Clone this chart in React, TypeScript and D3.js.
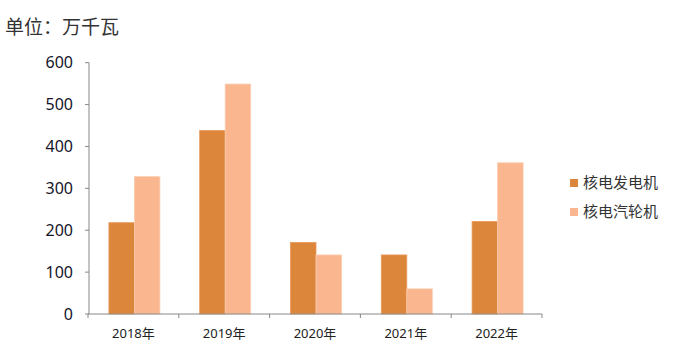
import React from "react";
import * as d3 from "d3";

const categories = ["2018年", "2019年", "2020年", "2021年", "2022年"];
const generatorValues = [218, 438, 171, 141, 221];
const turbineValues = [328, 549, 141, 60, 361];
const seriesNames = ["核电发电机", "核电汽轮机"];
const yTicks = [0, 100, 200, 300, 400, 500, 600];

const W = 685;
const H = 352;
const colors = ["#DC863B", "#F9B68F"];

export default function App() {
  const x = d3.scaleBand<string>().domain(categories).range([88, 542]).paddingInner(0).paddingOuter(0);
  const y = d3.scaleLinear().domain([0, 600]).range([314, 62.7]);
  const bw = 25.5;
  const series = [generatorValues, turbineValues];
  return (
    <svg width={W} height={H} style={{ position: "absolute", left: 0, top: 0, background: "#fff" }}>
      <text x={5} y={34} fontFamily="'Noto Sans CJK SC'" fontSize={19} fill="#333">单位：万千瓦</text>
      {series.map((vals, si) =>
        vals.map((v, i) => {
          const cx = (x(categories[i]) as number) + x.bandwidth() / 2 + 1;
          const bx = cx - bw + si * bw;
          return (
            <rect key={`${si}-${i}`} x={bx} y={y(v)} width={bw} height={y(0) - y(v)} fill={colors[si]}
              stroke={si === 0 ? "#E89A5A" : "#FCCDB0"} strokeWidth={0.8} />
          );
        })
      )}
      <line x1={89} x2={89} y1={62.7} y2={314} stroke="#888" strokeWidth={1} />
      {yTicks.map((t) => (
        <g key={t}>
          <line x1={85} x2={89} y1={y(t)} y2={y(t)} stroke="#888" />
          <text x={73} y={y(t)} dy="0.36em" textAnchor="end" fontFamily="'Noto Sans'" fontSize={16} fill="#15152a">{t}</text>
        </g>
      ))}
      <line x1={88} x2={542} y1={314} y2={314} stroke="#888" />
      {[...categories.map((c) => x(c) as number), 542].map((p, i) => (
        <line key={i} x1={p} x2={p} y1={314} y2={318} stroke="#888" />
      ))}
      {categories.map((c) => (
        <text key={c} x={(x(c) as number) + x.bandwidth() / 2} y={338} textAnchor="middle" fontFamily="'Noto Sans', 'Noto Sans CJK SC'" fontSize={13} fill="#222">{c}</text>
      ))}
      {seriesNames.map((n, i) => (
        <g key={n}>
          <rect x={570} y={179 + i * 29} width={8} height={8} fill={colors[i]} />
          <text x={583} y={183 + i * 29} dy="0.36em" fontFamily="'Noto Sans CJK SC'" fontSize={15} fill="#333">{n}</text>
        </g>
      ))}
    </svg>
  );
}
